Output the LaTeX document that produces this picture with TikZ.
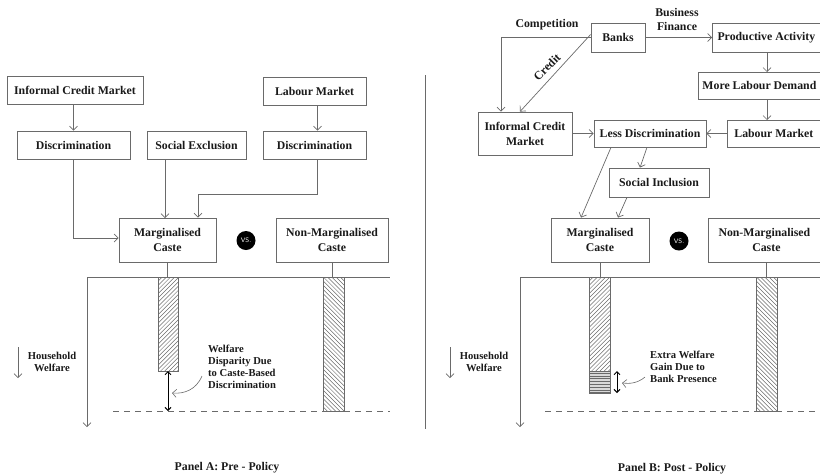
\documentclass[tikz,border=0pt]{standalone}
\usepackage{fontspec}
\setmainfont{Liberation Serif}
\usetikzlibrary{arrows.meta}
\definecolor{linecol}{HTML}{6A6A6A}
\definecolor{txtcol}{HTML}{1A1A1A}
\newcommand{\myhatchne}[4]{%
  \begin{scope}
    \clip (#1,#2) rectangle (#3,#4);
    \pgfmathsetmacro{\myhh}{#4-#2}
    \foreach \i in {0,...,45} {\draw[hatchln] ({#1-\myhh+\i*4.2},#4) -- ({#1+\i*4.2},#2);}
  \end{scope}
  \draw[barln] (#1,#2) rectangle (#3,#4);}
\newcommand{\myhatchnw}[4]{%
  \begin{scope}
    \clip (#1,#2) rectangle (#3,#4);
    \pgfmathsetmacro{\myhh}{#4-#2}
    \foreach \i in {0,...,45} {\draw[hatchln] ({#1-\myhh+\i*4.2},#2) -- ({#1+\i*4.2},#4);}
  \end{scope}
  \draw[barln] (#1,#2) rectangle (#3,#4);}
\begin{document}
\begin{tikzpicture}[x=1pt,y=-1pt,
  box/.style={draw=linecol, line width=0.8pt, font=\fontsize{11.8}{15}\selectfont\bfseries, text=txtcol, align=center, inner sep=0pt},
  lbl/.style={font=\fontsize{11.8}{14}\selectfont\bfseries, text=txtcol, align=center, inner sep=0pt},
  small/.style={font=\fontsize{10.6}{12}\selectfont\bfseries, text=txtcol, inner sep=0pt},
  arr/.style={draw=linecol, line width=0.7pt, -{Straight Barb[length=4pt,width=8pt]}},
  ln/.style={draw=linecol, line width=0.7pt},
  hatchln/.style={draw=linecol, line width=0.5pt},
  barln/.style={draw=linecol, line width=0.7pt},
  dbl/.style={draw=black, line width=1pt, {Straight Barb[length=3pt,width=6pt]}-{Straight Barb[length=3pt,width=6pt]}},
  vs/.style={circle, fill=black, text=white, minimum size=19pt, inner sep=0pt, font=\sffamily\fontsize{6.5}{7}\selectfont},
]
\useasboundingbox (0,0) rectangle (820,475);

% ================= Panel A =================
\node[box, minimum width=136pt, minimum height=28pt] (icmA) at (75,90) {Informal Credit Market};
\node[box, minimum width=103pt, minimum height=28pt] (labA) at (314.5,91) {Labour Market};
\node[box, minimum width=113pt, minimum height=28pt] (disA1) at (73.5,145) {Discrimination};
\node[box, minimum width=99pt, minimum height=28pt] (socA) at (196.5,145) {Social Exclusion};
\node[box, minimum width=103pt, minimum height=28pt] (disA2) at (314.5,145) {Discrimination};
\node[box, minimum width=97pt, minimum height=44pt] (margA) at (167.5,240) {Marginalised\\Caste};
\node[vs] (vsA) at (246,240.5) {VS.};
\node[box, minimum width=112pt, minimum height=44pt] (nonA) at (332,240) {Non-Marginalised\\Caste};

\draw[arr] (disA1.north |- icmA.south) -- (disA1.north);
\draw[arr] ([xshift=3pt]labA.south) -- ([xshift=3pt]disA2.north);
\draw[arr] (disA1.south) |- ([yshift=2pt]margA.west);
\draw[arr] (165,159) -- (165,218);
\coordinate (kA) at (198,194);
\draw[arr] ([xshift=3pt]disA2.south) |- (kA) -- (kA |- margA.north);

\coordinate (oA) at (87,277);
\coordinate (eA) at (390,277);
\draw[ln] (oA) -- (eA);
\coordinate (axA) at (87,427);
\draw[arr] (oA) -- (axA);
\draw[ln] (margA.south) -- (margA.south |- oA);
\draw[ln] (nonA.south) -- (nonA.south |- oA);

\myhatchne{158}{277}{178}{371}
\myhatchnw{323}{277}{344}{411}
\draw[ln, dash pattern=on 6pt off 5pt] (113,411) -- (390,411);
\coordinate (dA1) at (168,371);
\coordinate (dA2) at (168,411);
\draw[dbl] (dA1) -- (dA2);

\node[small, align=left, anchor=west] (wdA) at (208,367) {Welfare\\Disparity Due\\to Caste-Based\\Discrimination};
\draw[arr, line width=0.6pt] (202,376) .. controls (196,390) and (184,394) .. (172,393);

\coordinate (hwA1) at (18,347);
\coordinate (hwA2) at (18,378);
\draw[arr] (hwA1) -- (hwA2);
\node[small, align=center] (hwA) at (52,362) {Household\\Welfare};

\node[lbl] (capA) at (227,468) {Panel A: Pre - Policy};

% divider
\coordinate (dv1) at (425,75);
\coordinate (dv2) at (425,429);
\draw[ln] (dv1) -- (dv2);

% ================= Panel B =================
\node[box, minimum width=54pt, minimum height=29pt] (banks) at (618,37.5) {Banks};
\node[box, minimum width=112pt, minimum height=29pt, anchor=west] (prod) at (712,37.5) {\hspace*{-4pt}Productive Activity};
\node[box, minimum width=126pt, minimum height=27pt, anchor=west] (mld) at (698,85.5) {\hspace*{-4pt}More Labour Demand};
\node[box, minimum width=97pt, minimum height=27pt, anchor=west] (labB) at (727,133.5) {\hspace*{-4pt}Labour Market};
\node[box, minimum width=94pt, minimum height=43pt] (icmB) at (525,133.5) {Informal Credit\\Market};
\node[box, minimum width=112pt, minimum height=27pt] (lessD) at (650,133.5) {Less Discrimination};
\node[box, minimum width=100pt, minimum height=29pt] (socB) at (659,182.5) {Social Inclusion};
\node[box, minimum width=98pt, minimum height=44pt] (margB) at (600,240) {Marginalised\\Caste};
\node[vs] (vsB) at (679,241) {VS.};
\node[box, minimum width=116pt, minimum height=44pt, anchor=west] (nonB) at (708,240) {\hspace*{-4pt}Non-Marginalised\\Caste};

\draw[arr] (banks.east) -- (prod.west);
\node[lbl] (bf) at (677,19) {Business\\Finance};
\coordinate (cB) at (501,37.5);
\draw[arr] (banks.west) -- (cB) -- (cB |- icmB.north);
\node[lbl] (comp) at (547,25) {Competition};
\draw[arr] ([yshift=3pt]banks.west) -- ([xshift=-5pt]icmB.north);
\node[lbl, rotate=45] (cred) at (547,67) {Credit};

\draw[arr] (767,52) -- (767,72);
\draw[arr] (767,99) -- (767,120);
\draw[arr] (labB.west) -- (lessD.east);
\draw[arr] (icmB.east) -- (lessD.west);
\draw[arr] ([xshift=-3pt]lessD.south) -- ([xshift=-19pt]socB.north);
\draw[arr] ([xshift=-39pt]lessD.south) -- ([xshift=-19pt]margB.north);
\draw[arr] ([xshift=-32pt]socB.south) -- ([xshift=18pt]margB.north);

\coordinate (oB) at (520,277);
\coordinate (eB) at (822,277);
\draw[ln] (oB) -- (eB);
\coordinate (axB) at (520,427);
\draw[arr] (oB) -- (axB);
\draw[ln] (margB.south) -- (margB.south |- oB);
\draw[ln] (nonB.south -| 766,0) -- (766,277);

\myhatchne{589}{277}{610}{371}
\fill[gray!30] (589,371) rectangle (610,393);
\foreach \j in {0,...,7} {\draw[hatchln] (589,{373+\j*2.8}) -- (610,{373+\j*2.8});}
\draw[barln] (589,371) rectangle (610,393);
\myhatchnw{756}{277}{777}{411}
\draw[ln, dash pattern=on 6pt off 5pt] (545,411) -- (822,411);
\coordinate (dB1) at (617,371);
\coordinate (dB2) at (617,393);
\draw[dbl] (dB1) -- (dB2);

\node[small, align=left, anchor=west] (ewB) at (650,367) {Extra Welfare\\Gain Due to\\Bank Presence};
\draw[arr, line width=0.6pt] (645,377) .. controls (638,383) and (630,384) .. (622,383);

\coordinate (hwB1) at (450,347);
\coordinate (hwB2) at (450,378);
\draw[arr] (hwB1) -- (hwB2);
\node[small, align=center] (hwB) at (484,362) {Household\\Welfare};

\node[lbl] (capB) at (672,469) {Panel B: Post - Policy};
\end{tikzpicture}
\end{document}
